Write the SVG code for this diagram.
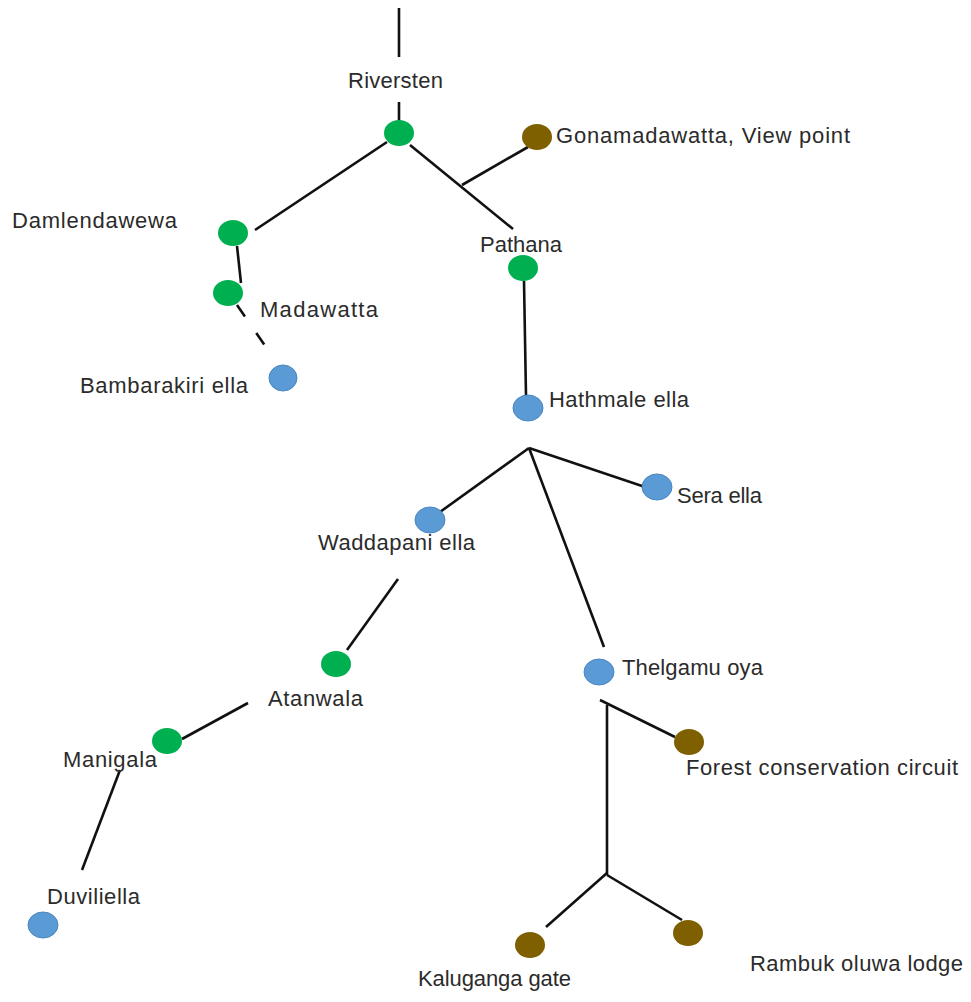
<svg xmlns="http://www.w3.org/2000/svg" width="971" height="1002" viewBox="0 0 971 1002">
<style>
text{font-family:"Liberation Sans",Arial,sans-serif;font-size:22px;fill:#2b2b2b}
.g{fill:#00b050}
.b{fill:#5b9bd5;stroke:#4a86c0;stroke-width:1}
.o{fill:#7f6000}
#connectors line{stroke:#111;stroke-width:2.6;stroke-linecap:butt}
.dash{stroke-dasharray:14 20}
</style>
<rect width="971" height="1002" fill="#fff"/>
<g id="connectors">
<line x1="399" y1="8" x2="399" y2="57"/>
<line x1="399" y1="102" x2="399" y2="121"/>
<line x1="387" y1="142" x2="255" y2="230"/>
<line x1="410" y1="145" x2="513" y2="229"/>
<line x1="462" y1="185" x2="528" y2="147"/>
<line x1="237" y1="246" x2="241" y2="283"/>
<line class="dash" x1="237" y1="305" x2="270" y2="353"/>
<line x1="524" y1="281" x2="526" y2="396"/>
<line x1="529" y1="448" x2="440" y2="512"/>
<line x1="529" y1="448" x2="645" y2="487"/>
<line x1="529" y1="448" x2="604" y2="647"/>
<line x1="398" y1="579" x2="347" y2="650"/>
<line x1="248" y1="703" x2="182" y2="739"/>
<line x1="120" y1="770" x2="82" y2="870"/>
<line x1="600" y1="700" x2="675" y2="737"/>
<line x1="607" y1="705" x2="607" y2="875"/>
<line x1="607" y1="873" x2="546" y2="927"/>
<line x1="607" y1="875" x2="682" y2="920"/>
</g>
<g id="riversten"><ellipse class="g" cx="399" cy="133" rx="15" ry="13"/><text x="348" y="88" textLength="95">Riversten</text></g>
<g id="gonamadawatta"><ellipse class="o" cx="537" cy="137" rx="15" ry="13"/><text x="556" y="143" textLength="294">Gonamadawatta, View point</text></g>
<g id="damlendawewa"><ellipse class="g" cx="233" cy="233" rx="15" ry="13"/><text x="12" y="228" textLength="165">Damlendawewa</text></g>
<g id="pathana"><ellipse class="g" cx="523" cy="268" rx="15" ry="13"/><text x="480" y="252" textLength="82">Pathana</text></g>
<g id="madawatta"><ellipse class="g" cx="228" cy="293" rx="15" ry="13"/><text x="260" y="317" textLength="118">Madawatta</text></g>
<g id="bambarakiri"><ellipse class="b" cx="283" cy="378" rx="14" ry="13"/><text x="80" y="393" textLength="168">Bambarakiri ella</text></g>
<g id="hathmale"><ellipse class="b" cx="528" cy="408" rx="15" ry="13"/><text x="549" y="407" textLength="140">Hathmale ella</text></g>
<g id="sera"><ellipse class="b" cx="657" cy="487" rx="15" ry="13"/><text x="677" y="503" textLength="85">Sera ella</text></g>
<g id="waddapani"><ellipse class="b" cx="430" cy="520" rx="15" ry="13"/><text x="318" y="550" textLength="157">Waddapani ella</text></g>
<g id="thelgamu"><ellipse class="b" cx="599" cy="672" rx="15" ry="13"/><text x="622" y="675" textLength="141">Thelgamu oya</text></g>
<g id="atanwala"><ellipse class="g" cx="336" cy="664" rx="15" ry="13"/><text x="268" y="706" textLength="95">Atanwala</text></g>
<g id="manigala"><ellipse class="g" cx="167" cy="741" rx="15" ry="13"/><text x="63" y="767" textLength="94">Manigala</text></g>
<g id="forest"><ellipse class="o" cx="689" cy="742" rx="15" ry="13"/><text x="686" y="775" textLength="272">Forest conservation circuit</text></g>
<g id="duviliella"><ellipse class="b" cx="43" cy="925" rx="15" ry="13"/><text x="47" y="904" textLength="93">Duviliella</text></g>
<g id="kaluganga"><ellipse class="o" cx="530" cy="945" rx="15" ry="13"/><text x="418" y="986" textLength="153">Kaluganga gate</text></g>
<g id="rambuk"><ellipse class="o" cx="688" cy="933" rx="15" ry="13"/><text x="750" y="971" textLength="213">Rambuk oluwa lodge</text></g>
</svg>
